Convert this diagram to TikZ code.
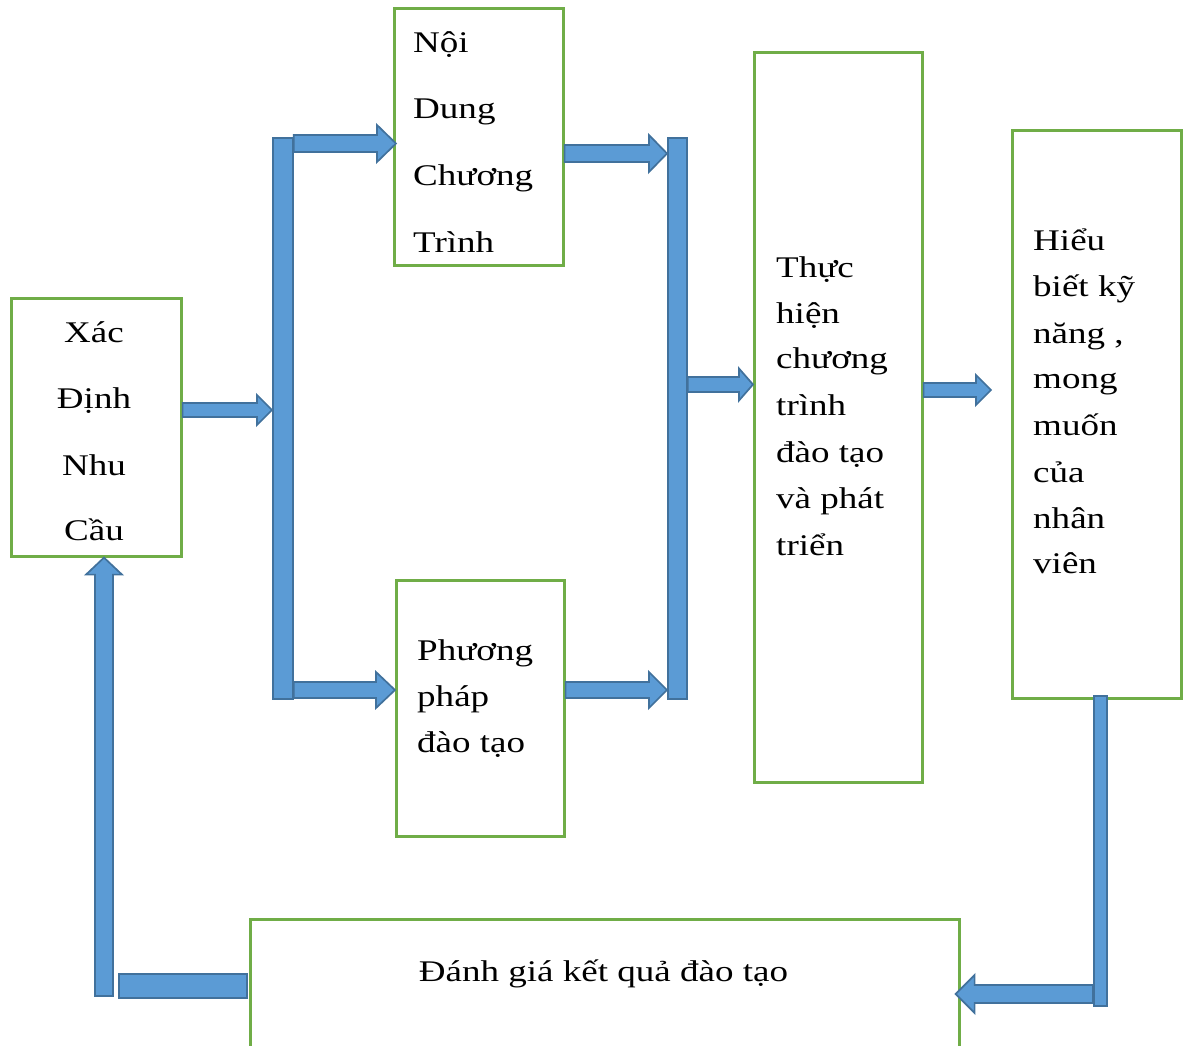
\documentclass[tikz,border=0pt]{standalone}
\usepackage{fontspec}
\setmainfont{Liberation Serif}[FakeStretch=1.235]
\usetikzlibrary{calc}
\definecolor{gbox}{HTML}{70AD47}
\definecolor{afill}{HTML}{5B9BD5}
\definecolor{aline}{HTML}{41719C}
% horizontal block arrow: #1 start, #2 tip, #3 shaft half width, #4 head half width, #5 head length (negative for leftward)
\newcommand\harrow[5]{\draw[blk] let \p1=(#1), \p2=(#2) in
  (\x1,{\y2+#3}) -- ({\x2-(#5)},{\y2+#3}) -- ({\x2-(#5)},{\y2+#4}) -- (\x2,\y2) --
  ({\x2-(#5)},{\y2-#4}) -- ({\x2-(#5)},{\y2-#3}) -- (\x1,{\y2-#3}) -- cycle;}
% upward block arrow
\newcommand\uarrow[5]{\draw[blk] let \p1=(#1), \p2=(#2) in
  ({\x2+#3},\y1) -- ({\x2+#3},{\y2-#5}) -- ({\x2+#4},{\y2-#5}) -- (\x2,\y2) --
  ({\x2-#4},{\y2-#5}) -- ({\x2-#3},{\y2-#5}) -- ({\x2-#3},\y1) -- cycle;}
\begin{document}
\begin{tikzpicture}[x=1pt,y=-1pt,
  box/.style={draw=gbox, line width=2.6pt, fill=white, inner sep=0pt, anchor=north west},
  blk/.style={fill=afill, draw=aline, line width=1.7pt, line join=miter},
  barn/.style={blk, inner sep=0pt, anchor=north west},
  txt/.style={inner sep=0pt, font=\fontsize{30}{36}\selectfont, anchor=base west},
  txtc/.style={txt, anchor=base}]
\useasboundingbox (0,0) rectangle (1183,1045);

% boxes
\node[box, minimum width=170pt, minimum height=258pt] (xac) at (10,297) {};
\node[box, minimum width=169pt, minimum height=257pt] (noi) at (393,7) {};
\node[box, minimum width=168pt, minimum height=256pt] (pp) at (395,579) {};
\node[box, minimum width=168pt, minimum height=730pt] (th) at (753,51) {};
\node[box, minimum width=169pt, minimum height=568pt] (hb) at (1011,129) {};
\node[box, minimum width=709pt, minimum height=200pt] (dg) at (249,918) {};

% texts
\foreach \t/\y [count=\i] in {Xác/342, Định/408, Nhu/475, Cầu/540}
  \node[txtc] (xac\i) at (94,\y) {\t};
\begin{scope}
  \clip (393,7) rectangle (562,251);
  \foreach \t/\y [count=\i] in {Nội/52, Dung/118, Chương/185, Trình/252}
    \node[txt] (noi\i) at (413,\y) {\t};
\end{scope}
\foreach \t/\y [count=\i] in {Phương/660, pháp/706, đào tạo/752}
  \node[txt] (pp\i) at (417,\y) {\t};
\foreach \t/\y [count=\i] in {Thực/277, hiện/323, chương/368, trình/415, đào tạo/462, và phát/508, triển/555}
  \node[txt] (th\i) at (776,\y) {\t};
\node[txt] (hb1) at (1033,250) {Hiểu};
\node[txt] (hb2) at (1033,296) {biết kỹ};
\node[txt] (hb3) at (1033,343) {năng ,};
\node[txt] (hb4) at (1033,388) {mong};
\node[txt] (hb5) at (1033,435) {muốn};
\node[txt] (hb6) at (1033,482) {của};
\node[txt] (hb7) at (1033,528) {nhân};
\node[txt] (hb8) at (1033,573) {viên};
\node[txtc] (dgt) at (603.5,981) {Đánh giá kết quả đào tạo};

% bars
\node[barn, minimum width=20pt, minimum height=561pt] (lbar) at (272,137) {};
\node[barn, minimum width=19pt, minimum height=561pt] (rbar) at (667,137) {};
\node[barn, minimum width=13pt, minimum height=310pt] (vbar) at (1093,695) {};
\node[barn, minimum width=128pt, minimum height=24pt] (hbar) at (118,973) {};

% free ends
\coordinate (hbtip) at (991,390);
\coordinate (upstart) at (104,996);

% arrows
\harrow{xac.east |- 0,410}{lbar.west |- 0,410}{7pt}{15pt}{15pt}
\harrow{lbar.east |- 0,143.5}{[xshift=3pt]noi.west |- 0,143.5}{8.5pt}{18.5pt}{19pt}
\harrow{lbar.east |- 0,690}{pp.west |- 0,690}{8pt}{18pt}{19pt}
\harrow{noi.east |- 0,153.5}{rbar.west |- 0,153.5}{8.5pt}{18.5pt}{18pt}
\harrow{pp.east |- 0,690}{rbar.west |- 0,690}{8pt}{18pt}{18pt}
\harrow{rbar.east |- 0,384.5}{th.west |- 0,384.5}{7.5pt}{16pt}{14pt}
\harrow{th.east |- 0,390}{hbtip}{7pt}{15pt}{15pt}
\harrow{vbar.west |- 0,994}{[xshift=-5pt]dg.east |- 0,994}{9pt}{19pt}{-19pt}
\uarrow{upstart}{xac.south -| upstart}{9pt}{18pt}{17pt}
\end{tikzpicture}
\end{document}
